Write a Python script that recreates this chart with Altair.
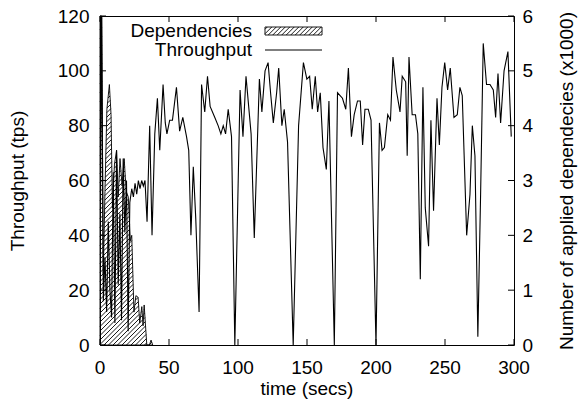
import altair as alt
import numpy as np
import pandas as pd

# ---------------- data ----------------
time_s = [0, 1.2, 2.4, 3.6, 4.8, 6.0, 7.2, 8.4, 9.6, 10.8, 12.0, 13.2, 14.4, 15.6, 16.8,
          18.0, 19.2, 20.4, 21.6, 23.0, 24.2, 25.4, 26.6, 27.8, 29.0, 30.2, 31.4, 32.6,
          34.1, 36.0, 37.7, 39.7, 41.6, 43.3, 45.7, 47.3, 48.5, 50.5, 52.5, 55.4, 57.7,
          60.0, 62.7, 64.3, 65.9, 67.6, 69.4, 71.8, 73.6, 75.9, 77.9, 79.8, 83.2, 85.6,
          87.6, 89.3, 91.0, 92.9, 95.3, 97.7, 101.5, 103.6, 105.8, 109.5, 111.8, 115.5,
          117.3, 119.6, 121.8, 123.6, 125.6, 128.0, 129.5, 131.8, 133.5, 135.9, 140.0,
          143.9, 147.4, 149.9, 151.9, 153.8, 156.0, 157.7, 159.6, 161.6, 164.0, 165.9,
          169.8, 172.1, 175.7, 178.1, 180.0, 182.2, 184.2, 186.6, 188.6, 190.3, 192.0,
          194.4, 196.4, 200.0, 202.5, 204.4, 206.1, 208.5, 210.5, 212.3, 214.7, 217.4,
          219.0, 221.5, 222.6, 223.9, 226.2, 228.6, 230.3, 232.1, 234.0, 235.7, 238.1,
          239.8, 241.7, 244.2, 245.9, 247.8, 249.8, 251.9, 253.8, 256.5, 258.9, 260.8,
          262.5, 265.7, 268.1, 269.8, 271.7, 273.8, 275.8, 277.7, 280.1, 282.6, 285.0,
          286.7, 288.4, 290.3, 292.8, 295.6, 298.0]
throughput = [22, 122, 16, 32, 12, 45, 20, 10, 63, 8, 71, 22, 48, 9, 68,
              41, 60, 5, 52, 57, 54, 59, 55, 60, 57, 60, 58, 60,
              45, 80, 40, 77, 90, 71, 95, 81, 77, 82, 82, 94, 78,
              83, 76, 71, 40, 65, 46, 12, 95, 85, 98, 87, 83, 80,
              77, 80, 77, 86, 76, 0, 93, 76, 98, 77, 39, 97,
              85, 100, 103, 92, 81, 92, 101, 80, 86, 74, 0,
              80, 103, 97, 98, 86, 98, 85, 92, 72, 64, 89,
              0, 92, 90, 86, 101, 76, 84, 89, 89, 73, 86,
              86, 82, 0, 81, 71, 72, 84, 82, 105, 93, 85,
              98, 96, 69, 105, 84, 84, 77, 24, 94, 50, 36,
              82, 49, 90, 73, 94, 103, 93, 101, 83, 84, 94,
              91, 40, 55, 80, 69, 3, 55, 110, 95, 95, 93,
              83, 99, 81, 100, 107, 76]

dep_time = [0, 1.2, 2.4, 3.6, 5.0, 6.8, 8.0, 9.0, 10.5, 12.0, 13.2, 14.5, 16.0, 17.5,
            19.0, 20.5, 22.0, 23.0, 24.6, 26.0, 27.6, 28.8, 30.3, 31.2, 32.0, 33.9,
            35.8, 37.0, 38.2]
dep_thousands = [6.0, 6.0, 1.3, 2.8, 4.3, 4.75, 4.2, 2.5, 3.3, 3.55, 2.7, 3.4, 2.9, 3.4,
                 2.8, 2.7, 1.9, 2.0, 0.6, 0.9, 0.87, 0.4, 0.7, 0.35, 0.73, 0.0,
                 0.0, 0.09, 0.0]

x_ticks = [0, 50, 100, 150, 200, 250, 300]
y_left_ticks = [0, 20, 40, 60, 80, 100, 120]
y_right_ticks = [0, 1, 2, 3, 4, 5, 6]
legend_labels = ["Dependencies", "Throughput"]
x_title = "time (secs)"

# ---------------- layout / style ----------------
W, H = 414, 329
FONT = "Liberation Sans"
FS = 19
TICK = 6
HATCH_SP = 4.5
X_LABEL_Y = H + 23
X_TITLE_Y = H + 44
x_dom = [0, 300]
yl_dom = [0, 120]
yr_dom = [0, 6]

xs = alt.Scale(domain=x_dom, nice=False, zero=False)
yls = alt.Scale(domain=yl_dom, nice=False)
yrs = alt.Scale(domain=yr_dom, nice=False)

SX = W / (x_dom[1] - x_dom[0])     # px per second
SY = H / (yr_dom[1] - yr_dom[0])   # px per thousand


def area_hatch(ts, ds, spacing):
    """'/' hatch segments under a curve, returned in data units."""
    X = np.asarray(ts, float) * SX
    Y = np.asarray(ds, float) * SY
    xmax = X.max()
    rows = []
    step = 0.05
    c = -H
    while c < xmax:
        x0 = max(0.0, c)
        xx = np.arange(x0, xmax + step, step)
        f = np.interp(xx, X, Y)
        ly = xx - c
        inside = (ly <= f + 1e-9) & (ly >= -1e-9)
        n = len(xx)
        i = 0
        while i < n:
            if inside[i]:
                j = i
                while j + 1 < n and inside[j + 1]:
                    j += 1
                if xx[j] - xx[i] > 0.3:
                    rows.append((xx[i] / SX, (xx[i] - c) / SY, xx[j] / SX, (xx[j] - c) / SY))
                i = j + 1
            else:
                i += 1
        c += spacing
    return pd.DataFrame(rows, columns=["t1", "d1", "t2", "d2"])


def rect_hatch(xa, xb, ya, yb, spacing):
    """'/' hatch inside a pixel box, converted to data units of the x / right-y scales."""
    rows = []
    k = xa + ya + spacing / 2
    while k < xb + yb:
        x1 = max(xa, k - yb)
        x2 = min(xb, k - ya)
        if x2 > x1:
            y1, y2 = k - x1, k - x2
            rows.append((x1 / SX, (H - y1) / SY, x2 / SX, (H - y2) / SY))
        k += spacing
    return pd.DataFrame(rows, columns=["t1", "d1", "t2", "d2"])


thr_df = pd.DataFrame({"t": time_s, "v": throughput})
dep_df = pd.DataFrame({"t": dep_time, "d": dep_thousands})
hatch_df = area_hatch(dep_time, dep_thousands, HATCH_SP)

# legend box (pixels inside plot)
LX_TEXT = 152
LX0, LX1 = 165, 222
L1_Y0, L1_Y1 = 11, 19
L1_YT = 15
L2_Y = 34
leg_hatch_df = rect_hatch(LX0, LX1, L1_Y0, L1_Y1, HATCH_SP)

# ---------------- dependencies (right axis) ----------------
area = alt.Chart(dep_df).mark_area(
    fill="white", fillOpacity=0, stroke="black", strokeWidth=0.9, interpolate="linear"
).encode(
    x=alt.X("t:Q", scale=xs, axis=None),
    y=alt.Y("d:Q", scale=yrs,
            axis=alt.Axis(orient="right", values=y_right_ticks,
                          title="Number of applied dependecies (x1000)",
                          labelPadding=8, titlePadding=25, titleAngle=270,
                          titleBaseline="top")),
)
hatch = alt.Chart(hatch_df).mark_rule(color="black", strokeWidth=0.9).encode(
    x=alt.X("t1:Q", scale=xs, axis=None),
    y=alt.Y("d1:Q", scale=yrs, axis=None),
    x2="t2:Q",
    y2="d2:Q",
)

# ---------------- throughput (left axis) ----------------
line = alt.Chart(thr_df).mark_line(color="black", strokeWidth=1.1, clip=True).encode(
    x=alt.X("t:Q", scale=xs, axis=None),
    y=alt.Y("v:Q", scale=yls,
            axis=alt.Axis(orient="left", values=y_left_ticks, title="Throughput (tps)",
                          labelPadding=11, titlePadding=30)),
)

# inward ticks on all four sides
xt_df = pd.DataFrame({"x": x_ticks})
xticks_bottom = alt.Chart(xt_df).mark_rule(color="black", strokeWidth=1).encode(
    x=alt.X("x:Q", scale=xs, axis=None), y=alt.value(H), y2=alt.value(H - TICK))
xticks_top = alt.Chart(xt_df).mark_rule(color="black", strokeWidth=1).encode(
    x=alt.X("x:Q", scale=xs, axis=None), y=alt.value(0), y2=alt.value(TICK))
lticks = alt.Chart(pd.DataFrame({"y": y_left_ticks})).mark_rule(color="black", strokeWidth=1).encode(
    y=alt.Y("y:Q", scale=yls, axis=None), x=alt.value(0), x2=alt.value(TICK))
rticks = alt.Chart(pd.DataFrame({"y": y_right_ticks})).mark_rule(color="black", strokeWidth=1).encode(
    y=alt.Y("y:Q", scale=yrs, axis=None), x=alt.value(W - TICK), x2=alt.value(W))

# x-axis labels and title (text marks placed through the x scale)
xlabels = alt.Chart(xt_df).mark_text(
    align="center", baseline="middle", font=FONT, fontSize=FS, color="black").encode(
    x=alt.X("x:Q", scale=xs, axis=None), y=alt.value(X_LABEL_Y), text="x:Q")
xtitle = alt.Chart(pd.DataFrame({"label": [x_title]})).mark_text(
    align="center", baseline="middle", font=FONT, fontSize=FS, color="black").encode(
    x=alt.value(W / 2), y=alt.value(X_TITLE_Y), text="label:N")

# legend
leg_text1 = alt.Chart(pd.DataFrame({"label": [legend_labels[0]]})).mark_text(
    align="right", baseline="middle", font=FONT, fontSize=FS, color="black").encode(
    text="label:N", x=alt.value(LX_TEXT), y=alt.value(L1_YT))
leg_text2 = alt.Chart(pd.DataFrame({"label": [legend_labels[1]]})).mark_text(
    align="right", baseline="middle", font=FONT, fontSize=FS, color="black").encode(
    text="label:N", x=alt.value(LX_TEXT), y=alt.value(L2_Y))
leg_box = alt.Chart(pd.DataFrame({"label": [legend_labels[0]]})).mark_rect(
    fill="white", stroke="black", strokeWidth=0.9).encode(
    x=alt.value(LX0), x2=alt.value(LX1), y=alt.value(L1_Y0), y2=alt.value(L1_Y1))
leg_hatch = alt.Chart(leg_hatch_df).mark_rule(color="black", strokeWidth=0.9).encode(
    x=alt.X("t1:Q", scale=xs, axis=None),
    y=alt.Y("d1:Q", scale=yrs, axis=None),
    x2="t2:Q", y2="d2:Q")
leg_line = alt.Chart(pd.DataFrame({"label": [legend_labels[1]]})).mark_rule(
    color="black", strokeWidth=1.1).encode(
    x=alt.value(LX0), x2=alt.value(LX1), y=alt.value(L2_Y))

chart = alt.layer(
    area, hatch, line, xticks_bottom, xticks_top, lticks, rticks, xlabels, xtitle,
    leg_text1, leg_text2, leg_box, leg_hatch, leg_line,
).resolve_scale(y="independent").properties(
    width=W, height=H,
    autosize=alt.AutoSizeParams(type="none"),
    padding={"left": 100, "top": 16, "right": 579 - 100 - W, "bottom": 406 - 16 - H},
    background="white",
).configure_view(stroke="black", strokeWidth=1).configure_axis(
    labelFont=FONT, titleFont=FONT, labelFontSize=FS, titleFontSize=FS,
    labelColor="black", titleColor="black", titleFontWeight="normal",
    ticks=False, domain=False, grid=False, labelFlush=False, labelOverlap=False,
)

chart.save("out.html", embed_options={"renderer": "svg", "actions": False})
